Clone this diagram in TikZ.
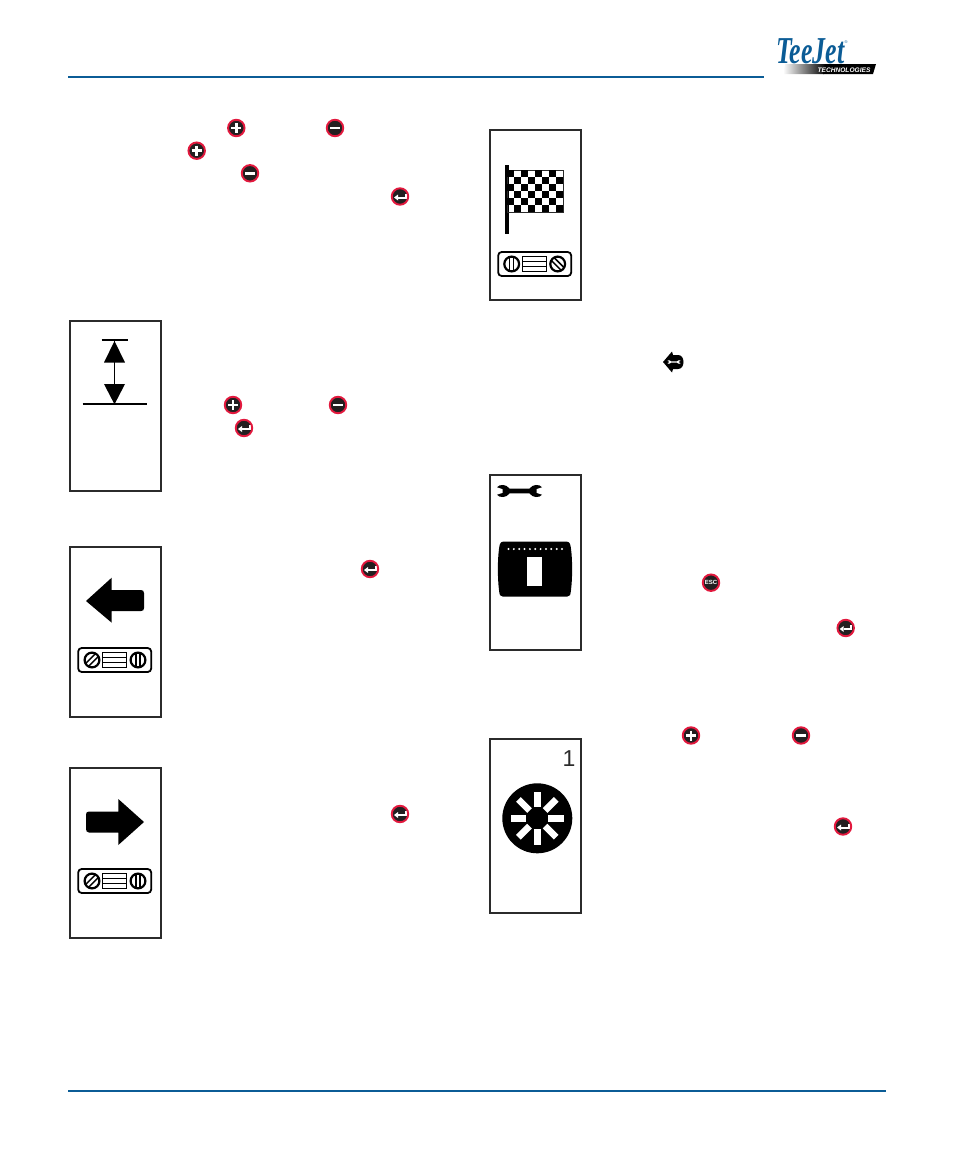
\documentclass[tikz,border=0pt]{standalone}
\usepackage{fontspec}
\newfontfamily\logofont{Liberation Serif}
\newfontfamily\panelfont{Liberation Sans}
\definecolor{ruleblue}{HTML}{0B5C96}
\definecolor{keyred}{HTML}{E2183D}
\definecolor{keyblack}{HTML}{231F20}
\definecolor{panelgrey}{HTML}{2B2B2B}
\tikzset{
	panelbox/.style={draw=panelgrey, line width=2pt, minimum width=91pt, inner sep=0},
	keybtn/.style={draw=keyred, fill=keyblack, line width=1.9pt, circle, minimum size=16.5pt, inner sep=0},
	keyplus/.style={keybtn, path picture={
		\draw[white, line width=2.6pt, shift={(path picture bounding box.center)}] (-5,0) -- (5,0) (0,-5) -- (0,5);}},
	keyminus/.style={keybtn, path picture={
		\draw[white, line width=2.6pt, shift={(path picture bounding box.center)}] (-5,0) -- (5,0);}},
	keyenter/.style={keybtn, path picture={
		\draw[white, line width=2pt, shift={(path picture bounding box.center)}] (5.5,-3) -- (5.5,1) -- (-2,1);
		\fill[white, shift={(path picture bounding box.center)}] (-6,1) -- (-2,-2) -- (-2,4) -- cycle;}},
	pics/spanner/.style={code={
		\path[pic actions] (-22.5,-3.8) .. controls (-20,-7) and (-13,-7) .. (-10,-2.4) -- (10,-2.4)
			.. controls (13,-7) and (20,-7) .. (22.5,-3.8) -- (17,-2) -- (17,2) -- (22.5,3.8)
			.. controls (20,7) and (13,7) .. (10,2.4) -- (-10,2.4)
			.. controls (-13,7) and (-20,7) .. (-22.5,3.8) -- (-17,2) -- (-17,-2) -- cycle;}},
	pics/screw/.style={code={
		\draw[line width=2.2pt] (0,0) circle (7.4);
		\draw[line width=1.5pt] (-2,-7) -- (-2,7) (2,-7) -- (2,7);}},
	pics/levelbase/.style={code={
		\draw[line width=1.8pt, rounded corners=3.5pt] (-36.5,-12) rectangle (36.5,12);
		\draw[line width=1.4pt] (-12,-7.5) rectangle (12,7.5) (-12,-2.5) -- (12,-2.5) (-12,2.5) -- (12,2.5);}}
}
\begin{document}
\begin{tikzpicture}[x=1pt,y=-1pt]
	\useasboundingbox (0,0) rectangle (954,1159);
	% page rules
	\coordinate (headl) at (68,77);
	\coordinate (headr) at (764,77);
	\coordinate (footl) at (68,1091);
	\coordinate (footr) at (886,1091);
	\draw[ruleblue, line width=1.8pt] (headl) -- (headr);
	\draw[ruleblue, line width=1.8pt] (footl) -- (footr);
	% logo
	\shade[left color=white, right color=black] (785,64) -- (826,64) -- (824,74) -- (783,74) -- cycle;
	\fill[black] (825,64) -- (876,64) -- (873,74) -- (823,74) -- cycle;
	\node[text=ruleblue, font=\logofont\bfseries\itshape\fontsize{38}{38}\selectfont, inner sep=0, text depth=0pt, text height=26pt, xscale=0.68] (logoname) at (810.5,50) {TeeJet};
	\node[text=ruleblue, font=\panelfont\fontsize{4}{4}\selectfont, inner sep=0] (logomark) at (846,42) {®};
	\node[text=white, font=\panelfont\bfseries\itshape\fontsize{6.6}{7}\selectfont, inner sep=0] (logotech) at (844,70) {TECHNOLOGIES};
	% panels
	\node[panelbox, minimum height=170pt] (panelflag) at (535,214.5) {};
	\node[panelbox, minimum height=170pt] (panelheight) at (115,405.5) {};
	\node[panelbox, minimum height=170pt] (panelleft) at (115,631.5) {};
	\node[panelbox, minimum height=170pt] (panelright) at (115,852.5) {};
	\node[panelbox, minimum height=175pt] (paneltool) at (535,562.5) {};
	\node[panelbox, minimum height=174pt] (panelbright) at (535,825.5) {};
	% flag
	\fill (505.3,165) rectangle (509,234);
	\draw[panelgrey, line width=0.6pt] (507,170) rectangle (563,212);
	\foreach \i in {0,...,7} {
		\foreach \j in {0,...,5} {
			\pgfmathparse{int(mod(\i+\j,2))}
			\ifnum\pgfmathresult=0
				\fill (507+\i*7,170+\j*7) rectangle ++(7,7);
			\fi
		}
	}
	\pic at (534.7,264) {levelbase};
	\pic at (511.7,264) {screw};
	\pic[rotate=45] at (557.7,264) {screw};
	% height
	\coordinate (heighttop) at (114.5,340);
	\coordinate (heightbase) at (114.5,404.3);
	\draw[line width=1.8pt] (101.7,340) -- (127.7,340);
	\draw[line width=1.8pt] (82.7,404.3) -- (146.7,404.3);
	\draw[line width=1pt] (heighttop) -- (heightbase);
	\fill (heighttop) ++(0,1) -- (125,362.5) -- (104,362.5) -- cycle;
	\fill (heightbase) -- (125,384) -- (104,384) -- cycle;
	% left arrow
	\fill (86,601) -- (111.7,577.7) -- (111.7,590) -- (141,590) .. controls (143,590) and (144,591) .. (144,593)
		-- (144,608) .. controls (144,610) and (143,611) .. (141,611) -- (111.7,611) -- (111.7,622.7) -- cycle;
	\pic at (114.7,660) {levelbase};
	\pic[rotate=-45] at (92,660) {screw};
	\pic at (138,660) {screw};
	% right arrow
	\fill (144,822) -- (118.3,799) -- (118.3,811.5) -- (89,811.5) .. controls (87,811.5) and (86,812.5) .. (86,814.5)
		-- (86,829) .. controls (86,831) and (87,832.5) .. (89,832.5) -- (118.3,832.5) -- (118.3,845) -- cycle;
	\pic at (114.7,881) {levelbase};
	\pic[rotate=-45] at (92,881) {screw};
	\pic at (138,881) {screw};
	% tool panel
	\pic[fill=black] at (519.5,491) {spanner};
	\fill (503,541.7) -- (567,541.7) .. controls (570,541.7) and (570.5,545) .. (571,549)
		.. controls (572.5,560) and (572.5,578) .. (571,590) .. controls (570.5,595) and (570,596.7) .. (567,596.7)
		-- (503,596.7) .. controls (500,596.7) and (499.5,595) .. (499,590)
		.. controls (497.5,578) and (497.5,560) .. (499,549) .. controls (499.5,545) and (500,541.7) .. (503,541.7) -- cycle;
	\foreach \i in {0,...,10} {
		\fill[white] (508.5+\i*5.35,549) circle (1.1);
	}
	\fill[white] (527,556.7) rectangle (542.3,585.7);
	% brightness
	\node[font=\panelfont\fontsize{23}{23}\selectfont, text=panelgrey, inner sep=0] (brightnum) at (569,758.5) {1};
	\fill (537.3,818.3) circle (35);
	\foreach \a in {0,45,...,315} {
		\fill[white, rotate around={\a:(537.3,818.3)}] (548.3,815) rectangle (564,821.6);
	}
	% keys
	\node[keyplus] (plusa) at (236.3,128) {};
	\node[keyminus] (minusa) at (335,128) {};
	\node[keyplus] (plusb) at (196.7,150.7) {};
	\node[keyminus] (minusb) at (250,173.3) {};
	\node[keyenter] (entera) at (400,196.5) {};
	\node[keyplus] (plusc) at (233,405) {};
	\node[keyminus] (minusc) at (338,405) {};
	\node[keyenter] (enterb) at (244,428) {};
	\node[keyenter] (enterc) at (370,569) {};
	\node[keyenter] (enterd) at (400,814) {};
	\node[keybtn, text=white, font=\panelfont\bfseries\fontsize{6}{6}\selectfont] (keyesc) at (711,582.7) {ESC};
	\node[keyenter] (entere) at (845.7,628) {};
	\node[keyplus] (plusd) at (691,735.5) {};
	\node[keyminus] (minusd) at (801,735.5) {};
	\node[keyenter] (enterf) at (843,826.5) {};
	% tool key
	\fill (663,362) -- (672,351.5) -- (673,355) -- (678,355) .. controls (681.5,355) and (683.5,358) .. (683.5,362)
		.. controls (683.5,366) and (681.5,369) .. (678,369) -- (673,369) -- (672,372.5) -- cycle;
	\pic[fill=white, scale=0.3] at (674,362) {spanner};
\end{tikzpicture}
\end{document}
